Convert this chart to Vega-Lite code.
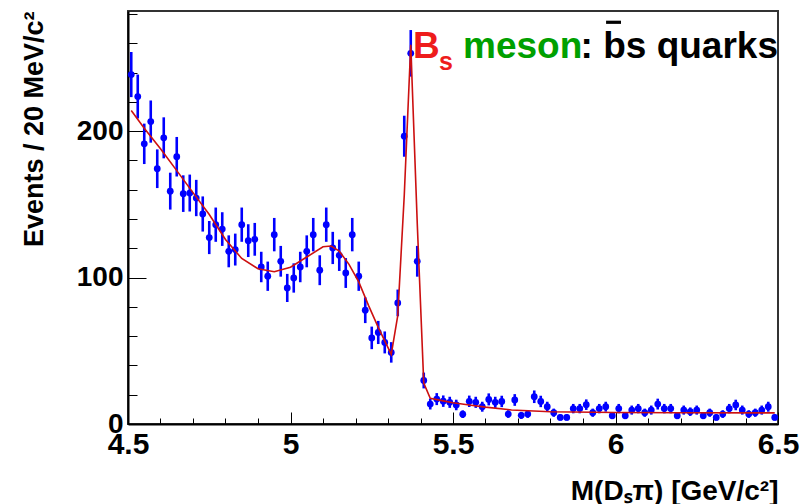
{
  "$schema": "https://vega.github.io/schema/vega-lite/v6.json",
  "width": 650,
  "height": 413,
  "autosize": "none",
  "padding": {"left": 128, "top": 11, "right": 22, "bottom": 80},
  "background": "white",
  "config": {
    "font": "Liberation Sans",
    "view": {"stroke": "#333333", "strokeWidth": 2},
    "axis": {"grid": false, "labelColor": "black", "titleColor": "black", "labelFont": "Liberation Sans", "titleFont": "Liberation Sans", "labelFontWeight": "bold", "titleFontWeight": "bold", "domainColor": "black", "domainWidth": 2, "tickColor": "black", "tickWidth": 1, "labelOverlap": false, "labelFlush": false},
    "axisX": {
      "titleFontSize": 28, "titleAnchor": "end", "titlePadding": 12,
      "labelFontSize": 30, "labelPadding": 17
    },
    "axisY": {
      "titleFontSize": 27, "titleAnchor": "end", "titlePadding": 28,
      "labelFontSize": 28, "labelPadding": 23
    }
  },
  "datasets": {
    "hist": [
      {"m":4.51,"n":238.6,"err":15.4},{"m":4.53,"n":223.6,"err":15.0},{"m":4.55,"n":191.3,"err":13.8},{"m":4.57,"n":206.5,"err":14.4},
      {"m":4.59,"n":174.3,"err":13.2},{"m":4.61,"n":195.4,"err":14.0},{"m":4.63,"n":159,"err":12.6},{"m":4.65,"n":182.5,"err":13.5},
      {"m":4.67,"n":157.3,"err":12.5},{"m":4.69,"n":157.7,"err":12.6},{"m":4.71,"n":154.3,"err":12.4},{"m":4.73,"n":143.4,"err":12.0},
      {"m":4.75,"n":127.3,"err":11.3},{"m":4.77,"n":136.1,"err":11.7},{"m":4.79,"n":133.1,"err":11.5},{"m":4.81,"n":117.9,"err":10.9},
      {"m":4.83,"n":119.1,"err":10.9},{"m":4.85,"n":136.1,"err":11.7},{"m":4.87,"n":125.2,"err":11.2},{"m":4.89,"n":126.1,"err":11.2},
      {"m":4.91,"n":107.2,"err":10.4},{"m":4.93,"n":100.9,"err":10.0},{"m":4.95,"n":129.3,"err":11.4},{"m":4.97,"n":111.1,"err":10.5},
      {"m":4.99,"n":92.9,"err":9.6},{"m":5.01,"n":99.7,"err":10.0},{"m":5.03,"n":107.2,"err":10.4},{"m":5.05,"n":117.9,"err":10.9},
      {"m":5.07,"n":129.3,"err":11.4},{"m":5.09,"n":105,"err":10.2},{"m":5.11,"n":136.1,"err":11.7},{"m":5.13,"n":120.2,"err":11.0},
      {"m":5.15,"n":115.2,"err":10.7},{"m":5.17,"n":103.1,"err":10.2},{"m":5.19,"n":129.3,"err":11.4},{"m":5.21,"n":100.9,"err":10.0},
      {"m":5.23,"n":77.7,"err":8.8},{"m":5.25,"n":58.8,"err":7.7},{"m":5.27,"n":62.5,"err":7.9},{"m":5.29,"n":55.7,"err":7.5},
      {"m":5.31,"n":48.9,"err":7.0},{"m":5.33,"n":82.7,"err":9.1},{"m":5.35,"n":196.5,"err":14.0},{"m":5.37,"n":253.1,"err":15.9},
      {"m":5.39,"n":111.1,"err":10.5},{"m":5.41,"n":29.7,"err":5.4},{"m":5.43,"n":13.6,"err":3.7},{"m":5.45,"n":17,"err":4.1},
      {"m":5.47,"n":15.6,"err":3.9},{"m":5.49,"n":14.8,"err":3.8},{"m":5.51,"n":13,"err":3.6},{"m":5.53,"n":6.7,"err":2.6},
      {"m":5.55,"n":15.5,"err":3.9},{"m":5.57,"n":14.8,"err":3.8},{"m":5.59,"n":11.8,"err":3.4},{"m":5.61,"n":16.8,"err":4.1},
      {"m":5.63,"n":14.8,"err":3.8},{"m":5.65,"n":15.4,"err":3.9},{"m":5.67,"n":6.8,"err":2.6},{"m":5.69,"n":16.4,"err":4.0},
      {"m":5.71,"n":5.9,"err":2.4},{"m":5.73,"n":6.8,"err":2.6},{"m":5.75,"n":18.6,"err":4.3},{"m":5.77,"n":15.4,"err":3.9},
      {"m":5.79,"n":11.8,"err":3.4},{"m":5.81,"n":7.7,"err":2.8},{"m":5.83,"n":4.5,"err":2.1},{"m":5.85,"n":4.5,"err":2.1},
      {"m":5.87,"n":10.5,"err":3.2},{"m":5.89,"n":10.5,"err":3.2},{"m":5.91,"n":13.2,"err":3.6},{"m":5.93,"n":7.7,"err":2.8},
      {"m":5.95,"n":10.5,"err":3.2},{"m":5.97,"n":11.8,"err":3.4},{"m":5.99,"n":5.7,"err":2.4},{"m":6.01,"n":10.5,"err":3.2},
      {"m":6.03,"n":5.7,"err":2.4},{"m":6.05,"n":9.5,"err":3.1},{"m":6.07,"n":10.5,"err":3.2},{"m":6.09,"n":7.7,"err":2.8},
      {"m":6.11,"n":9.5,"err":3.1},{"m":6.13,"n":13.6,"err":3.7},{"m":6.15,"n":10.5,"err":3.2},{"m":6.17,"n":10.5,"err":3.2},
      {"m":6.19,"n":5.7,"err":2.4},{"m":6.21,"n":9.5,"err":3.1},{"m":6.23,"n":8.4,"err":2.9},{"m":6.25,"n":9.5,"err":3.1},
      {"m":6.27,"n":5.7,"err":2.4},{"m":6.29,"n":7.7,"err":2.8},{"m":6.31,"n":4.5,"err":2.1},{"m":6.33,"n":6.8,"err":2.6},
      {"m":6.35,"n":10.5,"err":3.2},{"m":6.37,"n":13,"err":3.6},{"m":6.39,"n":9.5,"err":3.1},{"m":6.41,"n":6.8,"err":2.6},
      {"m":6.43,"n":7.7,"err":2.8},{"m":6.45,"n":9.5,"err":3.1},{"m":6.47,"n":11.8,"err":3.4},{"m":6.49,"n":4.5,"err":2.1}
    ],
    "fit": [
      {"m":4.51,"n":214},{"m":4.55,"n":202},{"m":4.6,"n":188},{"m":4.65,"n":173},{"m":4.7,"n":158},{"m":4.75,"n":143},
      {"m":4.8,"n":126},{"m":4.85,"n":113},{"m":4.9,"n":106},{"m":4.95,"n":104},{"m":5.0,"n":107},{"m":5.05,"n":114},
      {"m":5.1,"n":121},{"m":5.125,"n":121.5},{"m":5.15,"n":118},{"m":5.18,"n":109},{"m":5.21,"n":97},{"m":5.24,"n":81},
      {"m":5.27,"n":66},{"m":5.31,"n":47.5},{"m":5.33,"n":74},{"m":5.35,"n":156},{"m":5.37,"n":259},{"m":5.39,"n":137},
      {"m":5.41,"n":28},{"m":5.43,"n":17.5},{"m":5.47,"n":15.8},{"m":5.5,"n":14.5},{"m":5.55,"n":13},{"m":5.6,"n":11.5},
      {"m":5.68,"n":9.6},{"m":5.8,"n":8.4},{"m":6.0,"n":7.9},{"m":6.2,"n":7.7},{"m":6.49,"n":7.6}
    ],
    "notes": [
      {"label": "B", "part": "B"},
      {"label": "s", "part": "sub"},
      {"label": "meson", "part": "meson"},
      {"label": ": bs quarks", "part": "quarks"}
    ]
  },
  "layer": [
    {
      "data": {"name": "hist"},
      "mark": {"type": "errorbar", "color": "#0000ff", "thickness": 2.6},
      "encoding": {
        "x": {"field": "m", "type": "quantitative", "scale": {"domain": [4.5, 6.5], "nice": false, "zero": false},
          "axis": {"title": "M(Dₛπ) [GeV/c²]", "values": [4.5,4.6,4.7,4.8,4.9,5,5.1,5.2,5.3,5.4,5.5,5.6,5.7,5.8,5.9,6,6.1,6.2,6.3,6.4,6.5], "format": "~g", "labelOverlap": false,
            "labelExpr": "abs(datum.value*2 - round(datum.value*2)) < 0.001 ? datum.label : ''",
            "tickSize": {"condition": {"test": "abs(datum.value*2 - round(datum.value*2)) < 0.001", "value": -12}, "value": -6}}},
        "y": {"field": "n", "type": "quantitative", "scale": {"domain": [0, 282], "nice": false, "zero": true},
          "axis": {"title": "Events / 20 MeV/c²", "values": [0,20,40,60,80,100,120,140,160,180,200,220,240,260,280], "labelOverlap": false,
            "labelExpr": "datum.value % 100 == 0 ? datum.label : ''",
            "tickSize": {"condition": {"test": "datum.value % 100 == 0", "value": -18}, "value": -9}}},
        "yError": {"field": "err"}
      }
    },
    {
      "data": {"name": "hist"},
      "mark": {"type": "circle", "color": "#0000ff", "size": 46, "opacity": 1},
      "encoding": {
        "x": {"field": "m", "type": "quantitative",
          "axis": {"title": "M(Dₛπ) [GeV/c²]", "values": [4.5,4.6,4.7,4.8,4.9,5,5.1,5.2,5.3,5.4,5.5,5.6,5.7,5.8,5.9,6,6.1,6.2,6.3,6.4,6.5], "format": "~g", "labelOverlap": false,
            "labelExpr": "abs(datum.value*2 - round(datum.value*2)) < 0.001 ? datum.label : ''",
            "tickSize": {"condition": {"test": "abs(datum.value*2 - round(datum.value*2)) < 0.001", "value": -12}, "value": -6}}},
        "y": {"field": "n", "type": "quantitative",
          "axis": {"title": "Events / 20 MeV/c²", "values": [0,20,40,60,80,100,120,140,160,180,200,220,240,260,280], "labelOverlap": false,
            "labelExpr": "datum.value % 100 == 0 ? datum.label : ''",
            "tickSize": {"condition": {"test": "datum.value % 100 == 0", "value": -18}, "value": -9}}}
      }
    },
    {
      "data": {"name": "fit"},
      "mark": {"type": "line", "color": "#cc1010", "strokeWidth": 1.6, "interpolate": "linear"},
      "encoding": {
        "x": {"field": "m", "type": "quantitative",
          "axis": {"title": "M(Dₛπ) [GeV/c²]", "values": [4.5,4.6,4.7,4.8,4.9,5,5.1,5.2,5.3,5.4,5.5,5.6,5.7,5.8,5.9,6,6.1,6.2,6.3,6.4,6.5], "format": "~g", "labelOverlap": false,
            "labelExpr": "abs(datum.value*2 - round(datum.value*2)) < 0.001 ? datum.label : ''",
            "tickSize": {"condition": {"test": "abs(datum.value*2 - round(datum.value*2)) < 0.001", "value": -12}, "value": -6}}},
        "y": {"field": "n", "type": "quantitative",
          "axis": {"title": "Events / 20 MeV/c²", "values": [0,20,40,60,80,100,120,140,160,180,200,220,240,260,280], "labelOverlap": false,
            "labelExpr": "datum.value % 100 == 0 ? datum.label : ''",
            "tickSize": {"condition": {"test": "datum.value % 100 == 0", "value": -18}, "value": -9}}}
      }
    },
    {
      "data": {"name": "notes"},
      "transform": [{"filter": "datum.part == 'B'"}],
      "mark": {"type": "text", "color": "#ee1c1c", "fontSize": 37, "fontWeight": "bold", "align": "left", "baseline": "alphabetic"},
      "encoding": {
        "x": {"datum": 5.377, "axis": {"title": "M(Dₛπ) [GeV/c²]", "values": [4.5,4.6,4.7,4.8,4.9,5,5.1,5.2,5.3,5.4,5.5,5.6,5.7,5.8,5.9,6,6.1,6.2,6.3,6.4,6.5], "format": "~g", "labelOverlap": false,
            "labelExpr": "abs(datum.value*2 - round(datum.value*2)) < 0.001 ? datum.label : ''",
            "tickSize": {"condition": {"test": "abs(datum.value*2 - round(datum.value*2)) < 0.001", "value": -12}, "value": -6}}},
        "y": {"datum": 249.9, "axis": {"title": "Events / 20 MeV/c²", "values": [0,20,40,60,80,100,120,140,160,180,200,220,240,260,280], "labelOverlap": false,
            "labelExpr": "datum.value % 100 == 0 ? datum.label : ''",
            "tickSize": {"condition": {"test": "datum.value % 100 == 0", "value": -18}, "value": -9}}},
        "text": {"field": "label"}
      }
    },
    {
      "data": {"name": "notes"},
      "transform": [{"filter": "datum.part == 'sub'"}],
      "mark": {"type": "text", "color": "#ee1c1c", "fontSize": 25, "fontWeight": "bold", "align": "left", "baseline": "alphabetic"},
      "encoding": {
        "x": {"datum": 5.457, "axis": {"title": "M(Dₛπ) [GeV/c²]", "values": [4.5,4.6,4.7,4.8,4.9,5,5.1,5.2,5.3,5.4,5.5,5.6,5.7,5.8,5.9,6,6.1,6.2,6.3,6.4,6.5], "format": "~g", "labelOverlap": false,
            "labelExpr": "abs(datum.value*2 - round(datum.value*2)) < 0.001 ? datum.label : ''",
            "tickSize": {"condition": {"test": "abs(datum.value*2 - round(datum.value*2)) < 0.001", "value": -12}, "value": -6}}},
        "y": {"datum": 241.7, "axis": {"title": "Events / 20 MeV/c²", "values": [0,20,40,60,80,100,120,140,160,180,200,220,240,260,280], "labelOverlap": false,
            "labelExpr": "datum.value % 100 == 0 ? datum.label : ''",
            "tickSize": {"condition": {"test": "datum.value % 100 == 0", "value": -18}, "value": -9}}},
        "text": {"field": "label"}
      }
    },
    {
      "data": {"name": "notes"},
      "transform": [{"filter": "datum.part == 'meson'"}],
      "mark": {"type": "text", "color": "#00a000", "fontSize": 37, "fontWeight": "bold", "align": "left", "baseline": "alphabetic"},
      "encoding": {
        "x": {"datum": 5.5308, "axis": {"title": "M(Dₛπ) [GeV/c²]", "values": [4.5,4.6,4.7,4.8,4.9,5,5.1,5.2,5.3,5.4,5.5,5.6,5.7,5.8,5.9,6,6.1,6.2,6.3,6.4,6.5], "format": "~g", "labelOverlap": false,
            "labelExpr": "abs(datum.value*2 - round(datum.value*2)) < 0.001 ? datum.label : ''",
            "tickSize": {"condition": {"test": "abs(datum.value*2 - round(datum.value*2)) < 0.001", "value": -12}, "value": -6}}},
        "y": {"datum": 249.9, "axis": {"title": "Events / 20 MeV/c²", "values": [0,20,40,60,80,100,120,140,160,180,200,220,240,260,280], "labelOverlap": false,
            "labelExpr": "datum.value % 100 == 0 ? datum.label : ''",
            "tickSize": {"condition": {"test": "datum.value % 100 == 0", "value": -18}, "value": -9}}},
        "text": {"field": "label"}
      }
    },
    {
      "data": {"name": "notes"},
      "transform": [{"filter": "datum.part == 'quarks'"}],
      "mark": {"type": "text", "color": "black", "fontSize": 37, "fontWeight": "bold", "align": "right", "baseline": "alphabetic"},
      "encoding": {
        "x": {"datum": 6.5, "axis": {"title": "M(Dₛπ) [GeV/c²]", "values": [4.5,4.6,4.7,4.8,4.9,5,5.1,5.2,5.3,5.4,5.5,5.6,5.7,5.8,5.9,6,6.1,6.2,6.3,6.4,6.5], "format": "~g", "labelOverlap": false,
            "labelExpr": "abs(datum.value*2 - round(datum.value*2)) < 0.001 ? datum.label : ''",
            "tickSize": {"condition": {"test": "abs(datum.value*2 - round(datum.value*2)) < 0.001", "value": -12}, "value": -6}}},
        "y": {"datum": 249.9, "axis": {"title": "Events / 20 MeV/c²", "values": [0,20,40,60,80,100,120,140,160,180,200,220,240,260,280], "labelOverlap": false,
            "labelExpr": "datum.value % 100 == 0 ? datum.label : ''",
            "tickSize": {"condition": {"test": "datum.value % 100 == 0", "value": -18}, "value": -9}}},
        "text": {"field": "label"}
      }
    },
    {
      "data": {"name": "notes"},
      "transform": [{"filter": "datum.part == 'quarks'"}],
      "mark": {"type": "rule", "color": "black", "strokeWidth": 3.2},
      "encoding": {
        "x": {"datum": 5.971, "axis": {"title": "M(Dₛπ) [GeV/c²]", "values": [4.5,4.6,4.7,4.8,4.9,5,5.1,5.2,5.3,5.4,5.5,5.6,5.7,5.8,5.9,6,6.1,6.2,6.3,6.4,6.5], "format": "~g", "labelOverlap": false,
            "labelExpr": "abs(datum.value*2 - round(datum.value*2)) < 0.001 ? datum.label : ''",
            "tickSize": {"condition": {"test": "abs(datum.value*2 - round(datum.value*2)) < 0.001", "value": -12}, "value": -6}}},
        "x2": {"datum": 6.017},
        "y": {"datum": 274.3, "axis": {"title": "Events / 20 MeV/c²", "values": [0,20,40,60,80,100,120,140,160,180,200,220,240,260,280], "labelOverlap": false,
            "labelExpr": "datum.value % 100 == 0 ? datum.label : ''",
            "tickSize": {"condition": {"test": "datum.value % 100 == 0", "value": -18}, "value": -9}}}
      }
    }
  ]
}
